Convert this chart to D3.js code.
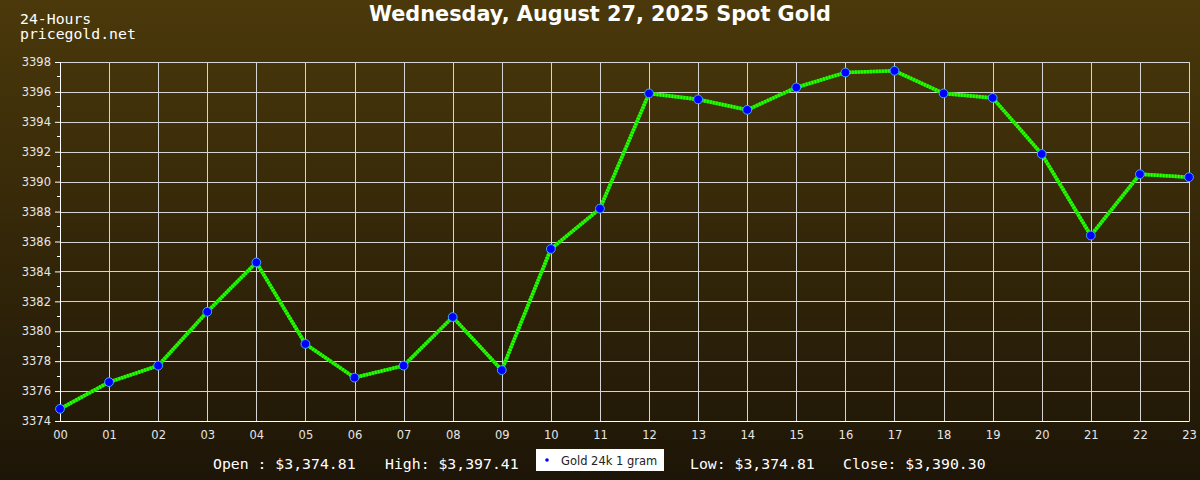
<!DOCTYPE html>
<html><head><meta charset="utf-8">
<script src="https://cdn.jsdelivr.net/npm/d3@7"></script>
<style>html,body{margin:0;padding:0;background:#000;}svg{display:block;}</style>
</head><body>
<svg id="c" width="1200" height="480"></svg>
<script>
const hours = ["00","01","02","03","04","05","06","07","08","09","10","11","12","13","14","15","16","17","18","19","20","21","22","23"];
const prices = [3374.81,3376.6,3377.7,3381.3,3384.6,3379.15,3376.9,3377.7,3380.95,3377.4,3385.5,3388.2,3395.9,3395.5,3394.8,3396.3,3397.3,3397.41,3395.9,3395.6,3391.85,3386.4,3390.5,3390.30];
const yTicks = [3374,3376,3378,3380,3382,3384,3386,3388,3390,3392,3394,3396,3398];
const yMinor = [3375,3377,3379,3381,3383,3385,3387,3389,3391,3393,3395,3397];
const title = "Wednesday, August 27, 2025 Spot Gold";
const corner = ["24-Hours","pricegold.net"];
const stats = ["Open : $3,374.81","High: $3,397.41","Low: $3,374.81","Close: $3,390.30"];
const legendLabel = "Gold 24k 1 gram";

const svg = d3.select("#c");
const defs = svg.append("defs");
const g = defs.append("linearGradient").attr("id","bg").attr("x1",0).attr("y1",0).attr("x2",0).attr("y2",1);
g.append("stop").attr("offset","0%").attr("stop-color","#4b390b");
g.append("stop").attr("offset","100%").attr("stop-color","#1d1507");
svg.append("rect").attr("width",1200).attr("height",480).attr("fill","url(#bg)");

const x = d3.scalePoint().domain(hours).range([60,1189]);
const y = d3.scaleLinear().domain([3374,3398]).range([421,62]);

// grid
svg.append("g").selectAll("line.h").data(yTicks).join("line")
  .attr("x1",60).attr("x2",1189).attr("y1",d=>Math.round(y(d))+0.5).attr("y2",d=>Math.round(y(d))+0.5)
  .attr("stroke","#d4d4d4").attr("stroke-width",1);
svg.append("g").selectAll("line.v").data(hours).join("line")
  .attr("x1",d=>Math.round(x(d))+0.5).attr("x2",d=>Math.round(x(d))+0.5).attr("y1",62).attr("y2",421)
  .attr("stroke","#d4d4d4").attr("stroke-width",1);

// y axis
const ya = svg.append("g").attr("transform","translate(60,0)")
  .call(d3.axisLeft(y).tickValues(yTicks).tickSize(5).tickFormat(d3.format("d")));
ya.select(".domain").attr("stroke","#ffffff");
ya.selectAll(".tick line").attr("stroke","#ffffff");
ya.selectAll(".tick text").attr("fill","#e6e6e6").attr("font-family","DejaVu Sans").attr("font-size",11.5).attr("x",-9);
ya.append("g").selectAll("line").data(yMinor).join("line")
  .attr("x1",-3).attr("x2",0).attr("y1",d=>y(d)).attr("y2",d=>y(d)).attr("stroke","#fff").attr("shape-rendering","crispEdges");

// x axis
const xa = svg.append("g").attr("transform","translate(0,421)")
  .call(d3.axisBottom(x).tickSize(0).tickSizeOuter(0));
xa.select(".domain").attr("stroke","#ffffff");
xa.selectAll(".tick text").attr("fill","#e6e6e6").attr("font-family","DejaVu Sans").attr("font-size",11.5).attr("dy","1.3em");

// line
const line = d3.line().x((d,i)=>x(hours[i])).y(d=>y(d));
svg.append("path").datum(prices).attr("d",line).attr("fill","none")
  .attr("stroke","#10d800").attr("stroke-width",3.6);
svg.append("path").datum(prices).attr("d",line).attr("fill","none")
  .attr("stroke","#33ff00").attr("stroke-width",3.6).attr("stroke-dasharray","1.5,1.5");

// markers
svg.append("g").selectAll("circle").data(prices).join("circle")
  .attr("cx",(d,i)=>x(hours[i])).attr("cy",d=>y(d)).attr("r",4.4)
  .attr("fill","#0000ff").attr("stroke","#3fa9ff").attr("stroke-width",1);

// texts
svg.append("text").attr("x",600).attr("y",20.5).attr("text-anchor","middle")
  .attr("font-family","DejaVu Sans").attr("font-weight","bold").attr("font-size",20.8)
  .attr("fill","#ffffff").text(title);
svg.selectAll("text.corner").data(corner).join("text").attr("class","corner")
  .attr("x",20).attr("y",(d,i)=>24+i*15).attr("font-family","DejaVu Sans Mono")
  .attr("font-size",14.8).attr("fill","#ffffff").text(d=>d);

const statX = [213,385,690,843];
svg.selectAll("text.stat").data(stats).join("text").attr("class","stat")
  .attr("x",(d,i)=>statX[i]).attr("y",469).attr("font-family","DejaVu Sans Mono")
  .attr("font-size",14.8).attr("fill","#ffffff").text(d=>d);

// legend
svg.append("rect").attr("x",536).attr("y",449).attr("width",128).attr("height",22).attr("fill","#ffffff");
svg.append("circle").attr("cx",547).attr("cy",460).attr("r",1.8).attr("fill","#0000ff");
svg.append("text").attr("x",561).attr("y",464.5).attr("font-family","DejaVu Sans").attr("font-size",11.5)
  .attr("fill","#222").text(legendLabel);
</script>
</body></html>
